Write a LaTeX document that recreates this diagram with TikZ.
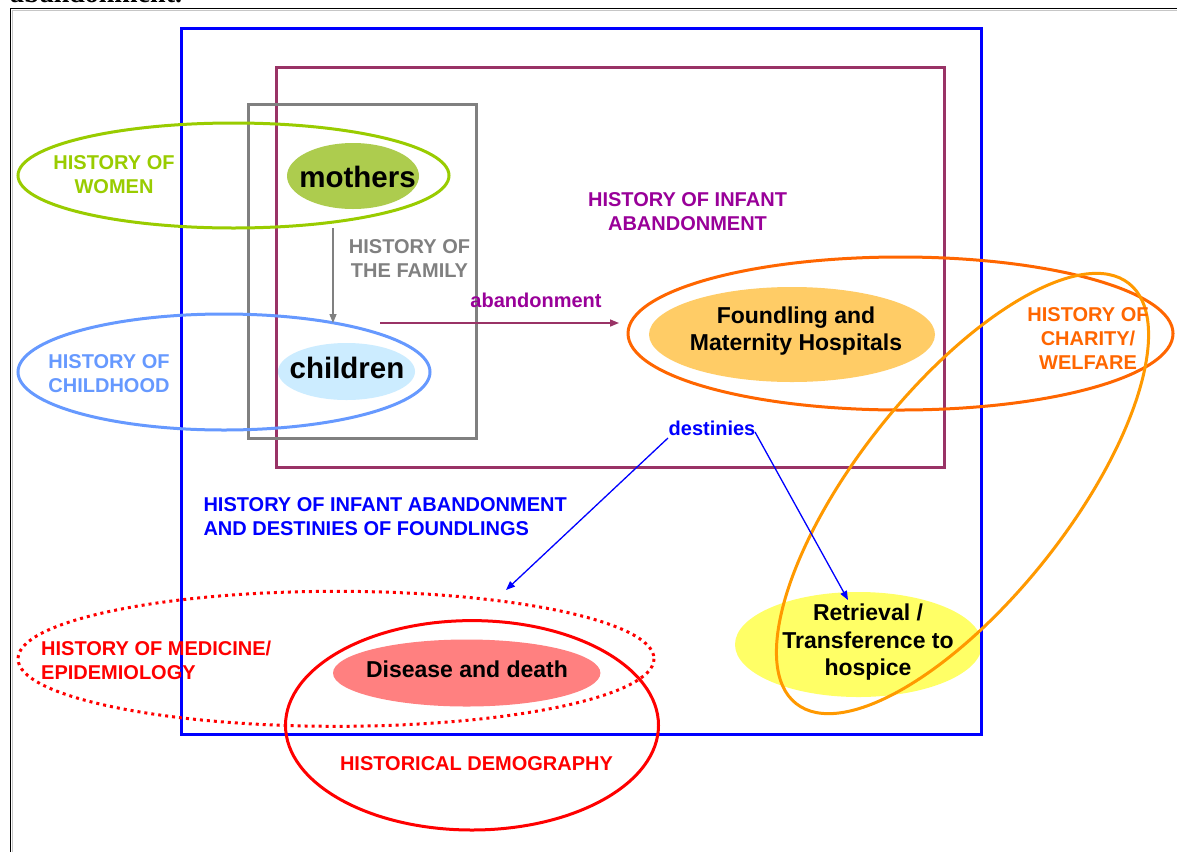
\documentclass[tikz,border=0pt]{standalone}
\usepackage{fontspec}
\setmainfont{Liberation Sans}
\newfontfamily\serifbody{Liberation Serif}
\usetikzlibrary{arrows.meta}
\definecolor{cgreen}{HTML}{99CC00}
\definecolor{cmothers}{RGB}{173,204,78}
\definecolor{cchild}{HTML}{6699FF}
\definecolor{cchildfill}{HTML}{CCECFF}
\definecolor{cgray}{HTML}{808080}
\definecolor{cplum}{HTML}{993366}
\definecolor{cpurple}{HTML}{990099}
\definecolor{corange}{HTML}{FF6600}
\definecolor{clorange}{HTML}{FF9900}
\definecolor{cfound}{HTML}{FFCC66}
\definecolor{cyellow}{HTML}{FFFF66}
\definecolor{cred}{HTML}{FF0000}
\definecolor{cdisease}{HTML}{FF8080}
\definecolor{cblue}{HTML}{0000FF}
\begin{document}
\begin{tikzpicture}[x=1pt,y=-1pt,
  lbl/.style={inner sep=0pt, font=\bfseries\fontsize{20}{24}\selectfont, align=center},
  bigtxt/.style={inner sep=0pt, font=\bfseries\fontsize{29.5}{32}\selectfont},
  midtxt/.style={inner sep=0pt, font=\bfseries\fontsize{23}{27.5}\selectfont, align=center},
  frame3/.style={line width=3pt},
  arr/.style={-{Triangle[length=9pt,width=7pt]}, line width=1.3pt}]
\useasboundingbox (0,0) rectangle (1177,852);
\clip (0,0) rectangle (1177,852);
\fill[white] (0,0) rectangle (1177,852);

% cropped line of page text
\node[anchor=base west, inner sep=0pt, font=\serifbody\bfseries\fontsize{28}{30}\selectfont] (pagetext) at (10,2.5) {abandonment.};

% page frame
\draw[gray!45, line width=1pt] (12,852) -- (12,10.5) -- (1177,10.5);
\draw[black, line width=1.5pt] (10.5,852) -- (10.5,8.5) -- (1177,8.5);

% filled ellipses
\fill[cmothers] (353,176) ellipse [x radius=66, y radius=33];
\fill[cchildfill] (346.5,371.5) ellipse [x radius=68.5, y radius=28.5];
\fill[cfound] (792,334.5) ellipse [x radius=143, y radius=47.5];
\fill[cyellow] (858.5,644.5) ellipse [x radius=123.5, y radius=52.5];
\fill[cdisease] (466.7,673) ellipse [x radius=133.7, y radius=33.5];

% rectangles
\draw[cblue, frame3] (181.5,28.5) rectangle (981.5,734.5);
\draw[cplum, frame3] (276.5,67) rectangle (944,467.5);
\draw[cgray, frame3] (248.5,104) rectangle (476.5,438);

% outline ellipses
\draw[cgreen, frame3] (233.5,175.5) ellipse [x radius=215.5, y radius=52.5];
\draw[cchild, frame3] (224,372) ellipse [x radius=206, y radius=58];
\draw[corange, frame3] (900.5,333.5) ellipse [x radius=272.5, y radius=76.5];
\draw[clorange, frame3, rotate around={51.6:(962.5,493.5)}] (962.5,493.5) ellipse [x radius=268, y radius=106];
\draw[cred, frame3, dash pattern=on 3pt off 4pt] (336,658.8) ellipse [x radius=318, y radius=67.5];
\draw[cred, frame3] (472,725.3) ellipse [x radius=186.5, y radius=104.7];

% labels
\node[lbl, text=cgreen] (women) at (114,174.2) {HISTORY OF\\WOMEN};
\node[lbl, text=cchild] (childhood) at (109,374) {HISTORY OF\\CHILDHOOD};
\node[lbl, text=cgray] (family) at (409.5,259) {HISTORY OF\\THE FAMILY};
\node[lbl, text=cpurple] (infant) at (687.5,212) {HISTORY OF INFANT\\ABANDONMENT};
\node[lbl, text=corange] (charity) at (1088,339) {HISTORY OF\\CHARITY/\\WELFARE};
\node[lbl, text=cblue, anchor=west, align=left] (destin) at (203.3,517) {HISTORY OF INFANT ABANDONMENT\\AND DESTINIES OF FOUNDLINGS};
\node[lbl, text=cred, anchor=west, align=left] (medicine) at (41,660.8) {HISTORY OF MEDICINE/\\EPIDEMIOLOGY};
\node[lbl, text=cred, anchor=base] (demog) at (476.5,770.7) {HISTORICAL DEMOGRAPHY};

\node[bigtxt, anchor=base] (mothers) at (357.5,187.3) {mothers};
\node[bigtxt, anchor=base] (children) at (347,378.3) {children};
\node[midtxt] (hospitals) at (796,331) {Foundling and\\Maternity Hospitals};
\node[midtxt] (retrieval) at (868,642.4) {Retrieval /\\Transference to\\hospice};
\node[midtxt, anchor=base] (disease) at (467,677.7) {Disease and death};

\node[lbl, text=cpurple, anchor=base] (abandon) at (536,307.7) {abandonment};
\node[lbl, text=cblue, anchor=base] (destinies) at (712,435) {destinies};

% connectors
\coordinate (famtop) at (333,228);
\coordinate (famend) at (333,323);
\draw[arr, cgray, line width=1.4pt] (famtop) -- (famend);

\coordinate (abstart) at (380,323);
\coordinate (abend) at (619,323);
\draw[arr, cplum, line width=1.5pt] (abstart) -- (abend);

\coordinate (dleft) at (668,438);
\coordinate (dright) at (755,432);
\coordinate (medtip) at (506,590);
\coordinate (rettip) at (848,600);
\draw[arr, cblue] (dleft) -- (medtip);
\draw[arr, cblue] (dright) -- (rettip);
\end{tikzpicture}
\end{document}
